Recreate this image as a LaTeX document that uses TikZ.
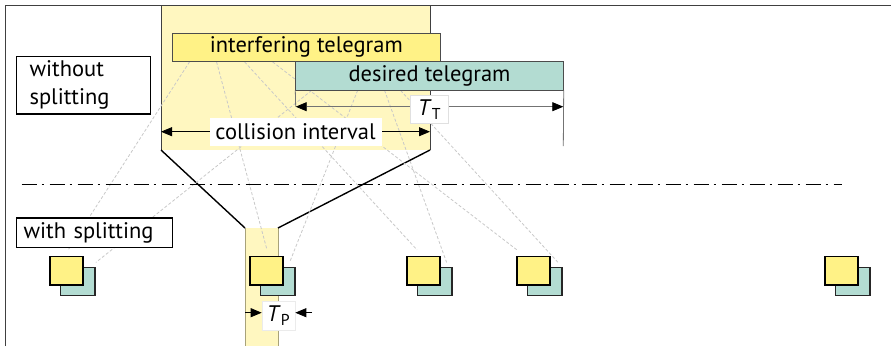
\documentclass[tikz,border=0pt]{standalone}
\usepackage{fontspec}
\setmainfont{PT Sans}
\usetikzlibrary{positioning, calc, arrows.meta, backgrounds}
\definecolor{collyellow}{HTML}{FFF7C0}
\definecolor{teleyellow}{HTML}{FFF286}
\definecolor{teleteal}{HTML}{B3DCD2}
\definecolor{fraggray}{HTML}{C8C8C8}
\definecolor{stripedge}{HTML}{A8A27A}

\begin{document}
\begin{tikzpicture}
[
x=1pt, y=-1pt,
font=\fontsize{22.5}{28}\selectfont,
inner sep=0pt,
>={Triangle[length=11pt, width=9pt, color=black]},
tele/.style={rectangle, draw=black!70, line width=0.8pt, minimum height=28.3pt},
case/.style={rectangle, draw=black, line width=1.2pt, fill=white, align=left, anchor=north west},
piece1/.style={rectangle, draw=black, line width=1.6pt, fill=teleyellow, minimum width=33.3pt, minimum height=28.3pt},
piece2/.style={rectangle, draw=black!85, line width=1.2pt, fill=teleteal, minimum width=34.4pt, minimum height=28pt},
frag/.style={draw=fraggray, line width=0.8pt, dash pattern=on 3pt off 2pt},
lbl/.style={rectangle, fill=white, text=black, minimum height=28pt},
dim/.style={<->, line width=0.8pt},
sep/.style={line width=1.3pt, dash pattern=on 15pt off 5pt on 2pt off 6pt},
]
\useasboundingbox (0,0) rectangle (891,346);

\draw [black!75, line width=1pt] (5,346) -- (5,5) -- (891,5);

\node [tele, fill=teleyellow, minimum width=268.7pt] (interf) at (306.3,47.3) {interfering telegram};
\node [tele, fill=teleteal, minimum width=267.6pt] (desired) at (429.5,75.9) {desired telegram};

\node [case, inner xsep=13pt, text width=107.7pt, minimum height=57.6pt] (without) at (16,55.7) {without\\splitting};
\node [case, inner xsep=7pt, text width=142pt, minimum height=29.4pt] (with) at (16,217.3) {with splitting};

\foreach \x [count=\i] in {50,250,407,517,825}
{
\node [piece2] (t\i) at (\x+27.8,281.7) {};
\node [piece1] (y\i) at (\x+16.6,270.8) {};
}

\coordinate (sepL) at (21.7,184.3);
\coordinate (sepR) at (841.7,184.3);
\draw [sep] (sepL) -- (sepR);

\coordinate (ciL) at (161,131.7);
\coordinate (ciR) at (430,131.7);
\draw [dim] (ciL) -- node[lbl, minimum width=172pt] (cilabel) {collision interval} (ciR);

\coordinate (ttL) at (295.7,106.7);
\coordinate (ttR) at (563.3,106.7);
\coordinate (ttEnd) at (563.3,146);
\draw [black!55, line width=0.8pt] (desired.south west) -- (ttL);
\draw [black!55, line width=0.8pt] (desired.south east) -- (ttEnd);
\draw [dim, black!55] (ttL) -- node[lbl, draw=black!12, line width=0.6pt, minimum width=38pt, yshift=-2.7pt] (tt) {\textit{T}\textsubscript{T}} (ttR);

\node [lbl, draw=black!8, line width=0.6pt, minimum width=33pt, minimum height=29pt] (tp) at (278.5,315.5) {\textit{T}\textsubscript{P}};
\coordinate (tpL) at (245,312.7);
\coordinate (tpR) at (312,312.7);
\draw [->, line width=0.8pt] (tpL) -- (tpL -| tp.west);
\draw [->, line width=0.8pt] (tpR) -- (tpR -| tp.east);

\begin{scope}[on background layer]
\fill [collyellow] (161,5) rectangle (430,150);
\fill [collyellow] (245,228) rectangle (278,346);
\draw [black!75, line width=0.9pt] (161,5) -- (161,150);
\draw [black!75, line width=0.9pt] (430,5) -- (430,150);
\draw [stripedge, line width=0.9pt] (245,228) -- (245,346);
\draw [stripedge, line width=0.9pt] (278,228) -- (278,346);
\draw [black, line width=1.4pt] (161,150) -- (245,228);
\draw [black, line width=1.4pt] (430,150) -- (278,228);
\foreach \s/\i/\dx in {18/1/1.6, 45/2/0.4, 73/3/-6.6, 101/4/-16.7}
  \draw [frag] ([xshift=\s pt]interf.south west) -- ([xshift=\dx pt, yshift=6pt]y\i.north);
\foreach \s/\i/\dx in {16.3/1/0.3, 62.3/2/-6, 89.3/3/-6, 105.3/4/-4.6}
  \draw [frag] ([xshift=\s pt]desired.south west) -- ([xshift=\dx pt, yshift=4.7pt]t\i.north east);
\end{scope}
\end{tikzpicture}
\end{document}
